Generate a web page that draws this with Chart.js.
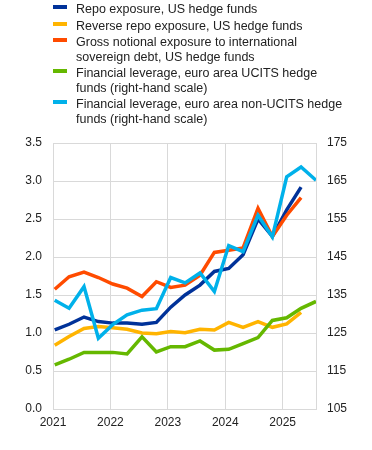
<!DOCTYPE html>
<html>
<head>
<meta charset="utf-8">
<script src="https://cdn.jsdelivr.net/npm/chart.js"></script>
<style>
  body { margin: 0; background: #fff; font-family: 'Liberation Sans', Arial, sans-serif; }
  #wrap { position: relative; width: 372px; height: 450px; }
  #legend { position: absolute; left: 53px; top: 2px; font-size: 12.5px; line-height: 14.5px; color: #222; }
  .item { position: relative; padding-left: 23px; margin-bottom: 2px; white-space: nowrap; }
  .swatch { position: absolute; left: 0; top: 3px; width: 14px; height: 4px; }
  canvas { position: absolute; left: 0; top: 0; }
</style>
</head>
<body>
<div id="wrap">
  <canvas id="myChart" width="372" height="450"></canvas>
  <div id="legend"></div>
</div>
<script>
// quarterly observations, as decimal years
var dates = [2021.03, 2021.28, 2021.54, 2021.79, 2022.04, 2022.29, 2022.55, 2022.80, 2023.05, 2023.30,
             2023.56, 2023.81, 2024.06, 2024.31, 2024.57, 2024.82, 2025.07, 2025.32, 2025.58];

// left-hand scale
var repo = [1.04, 1.115, 1.21, 1.15, 1.13, 1.13, 1.115, 1.14, 1.34, 1.50, 1.63, 1.81, 1.85, 2.03, 2.50, 2.27, 2.62, 2.92];
var reverseRepo = [0.84, 0.955, 1.06, 1.085, 1.07, 1.05, 1.00, 0.99, 1.02, 1.005, 1.05, 1.04, 1.14, 1.075, 1.15, 1.075, 1.12, 1.27];
var grossNotional = [1.575, 1.74, 1.80, 1.73, 1.645, 1.59, 1.48, 1.675, 1.60, 1.63, 1.76, 2.06, 2.09, 2.12, 2.64, 2.27, 2.55, 2.78];
// right-hand scale
var ucits = [116.6, 118.1, 119.9, 119.9, 119.9, 119.5, 124.0, 120.0, 121.4, 121.4, 122.9, 120.5, 120.7, 122.2, 123.8, 128.3, 129.0, 131.5, 133.3];
var nonUcits = [133.6, 131.5, 137.2, 123.6, 127.2, 129.8, 131.0, 131.4, 139.6, 138.2, 140.8, 135.9, 148.0, 146.4, 156.0, 150.3, 166.1, 168.7, 165.2];

var seriesLabels = [
  ['Repo exposure, US hedge funds'],
  ['Reverse repo exposure, US hedge funds'],
  ['Gross notional exposure to international', 'sovereign debt, US hedge funds'],
  ['Financial leverage, euro area UCITS hedge', 'funds (right-hand scale)'],
  ['Financial leverage, euro area non-UCITS hedge', 'funds (right-hand scale)']
];
var leftTicks = [0, 3.5, 0.5];    // min, max, step
var rightTicks = [105, 175, 10];
var yearTicks = [2021, 2022, 2023, 2024, 2025];
var xRange = [2021, 2025.58];

var colors = ['#003299', '#ffb400', '#ff4b00', '#65b800', '#00b1ea'];
var gridColor = '#d9d9d9';
var textColor = '#222';

function pts(vals) {
  return vals.map(function(v, i) { return { x: dates[i], y: v }; });
}

var allSeries = [repo, reverseRepo, grossNotional, ucits, nonUcits];
var axisFor = ['y', 'y', 'y', 'y1', 'y1'];

var datasets = allSeries.map(function(s, i) {
  return {
    label: seriesLabels[i].join(' '),
    data: pts(s),
    yAxisID: axisFor[i],
    borderColor: colors[i],
    backgroundColor: colors[i],
    borderWidth: 3.5,
    pointRadius: 0,
    tension: 0,
    order: 5 - i
  };
});

// html legend
var legend = document.getElementById('legend');
seriesLabels.forEach(function(lines, i) {
  var item = document.createElement('div');
  item.className = 'item';
  item.innerHTML = '<span class="swatch" style="background:' + colors[i] + '"></span>' + lines.join('<br>');
  legend.appendChild(item);
});

var font = { family: "'Liberation Sans', Arial, sans-serif", size: 12 };

var ctx = document.getElementById('myChart').getContext('2d');
var myChart = new Chart(ctx, {
  type: 'line',
  data: { datasets: datasets },
  options: {
    responsive: false,
    animation: false,
    layout: { padding: { top: 143, left: 0, right: 0, bottom: 0 } },
    plugins: { legend: { display: false }, tooltip: { enabled: false } },
    scales: {
      x: {
        type: 'linear',
        min: xRange[0],
        max: xRange[1],
        afterBuildTicks: function(s) {
          s.ticks = yearTicks.map(function(v) { return { value: v }; });
        },
        afterFit: function(s) { s.height = 41; },
        ticks: { color: textColor, font: font, padding: 6, maxRotation: 0, autoSkip: false,
                 callback: function(v) { return String(v); } },
        grid: { color: gridColor, drawTicks: false },
        border: { color: gridColor }
      },
      y: {
        position: 'left',
        min: leftTicks[0],
        max: leftTicks[1],
        afterFit: function(s) { s.width = 53; },
        ticks: { stepSize: leftTicks[2], color: textColor, font: font, padding: 11,
                 callback: function(v) { return v.toFixed(1); } },
        grid: { color: gridColor, drawTicks: false },
        border: { color: gridColor }
      },
      y1: {
        position: 'right',
        min: rightTicks[0],
        max: rightTicks[1],
        afterFit: function(s) { s.width = 56; },
        ticks: { stepSize: rightTicks[2], color: textColor, font: font, padding: 11 },
        grid: { drawOnChartArea: false, drawTicks: false },
        border: { color: gridColor }
      }
    }
  }
});
</script>
</body>
</html>
